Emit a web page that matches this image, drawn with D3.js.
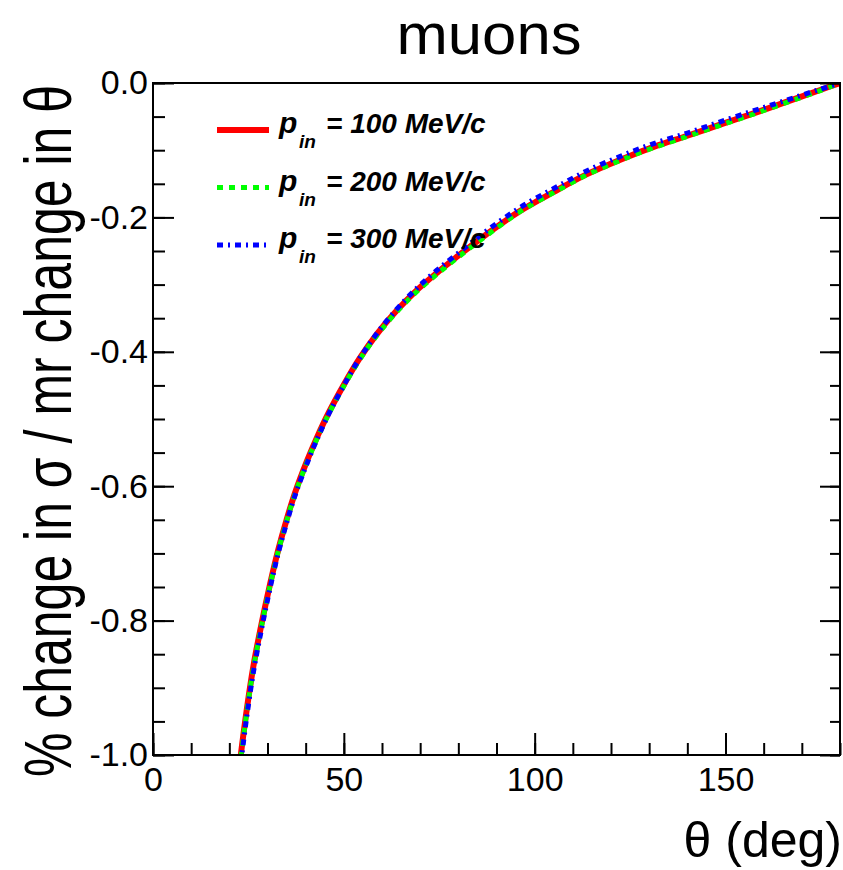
<!DOCTYPE html>
<html>
<head>
<meta charset="utf-8">
<script src="https://cdn.jsdelivr.net/npm/d3@7"></script>
<style>
  body { margin: 0; background: #fff; }
  text { font-family: "Liberation Sans", Arial, Helvetica, sans-serif; }
</style>
</head>
<body>
<div id="root"></div>
<script>
// theta in degrees
const theta = [23, 24.5, 26.3, 28.5, 30.7, 32.8, 35, 37.2, 40.3, 43, 46, 50, 54, 58.6, 63.8, 69,
               74.3, 80, 87.4, 96, 105, 113.6, 122.3, 131, 140, 148, 156.4, 163, 169.5, 175, 180];
const p100 = [-1.000, -0.935, -0.868, -0.803, -0.745, -0.695, -0.650, -0.610, -0.563, -0.527, -0.491,
              -0.449, -0.411, -0.374, -0.339, -0.309, -0.283, -0.257, -0.225, -0.191, -0.162, -0.136,
              -0.1145, -0.0955, -0.0785, -0.063, -0.047, -0.034, -0.021, -0.010, 0.000];
const p200 = [-1.004, -0.939, -0.871, -0.806, -0.747, -0.697, -0.652, -0.612, -0.565, -0.529, -0.493,
              -0.451, -0.413, -0.376, -0.341, -0.311, -0.285, -0.259, -0.227, -0.192, -0.163, -0.137,
              -0.1155, -0.0965, -0.0795, -0.064, -0.048, -0.035, -0.022, -0.011, 0.000];
const p300 = [-1.012, -0.946, -0.877, -0.811, -0.751, -0.700, -0.655, -0.614, -0.567, -0.530, -0.493,
              -0.450, -0.411, -0.373, -0.337, -0.306, -0.279, -0.253, -0.220, -0.186, -0.157, -0.131,
              -0.1095, -0.0905, -0.0745, -0.059, -0.043, -0.031, -0.019, -0.009, 0.000];
const seriesNames = ['100 MeV/c', '200 MeV/c', '300 MeV/c'];
const seriesColors = ['#ff0000', '#00ff00', '#0000ff'];
const seriesDash = ['none', '6,6', '6,5,2,5'];
const xTicks = [0, 50, 100, 150];
const yTicks = [0, -0.2, -0.4, -0.6, -0.8, -1.0];

const chart = () => {
  const w = 843;
  const h = 870;
  const m = { left: 153, right: 840, top: 83, bottom: 755 };

  const svg = d3.select('#root')
    .append('svg')
    .attr('width', w)
    .attr('height', h);

  const x = d3.scaleLinear().domain([0, 180]).range([m.left, m.right]);
  const y = d3.scaleLinear().domain([-1, 0]).range([m.bottom, m.top]);

  svg.append('clipPath').attr('id', 'frame')
    .append('rect')
    .attr('x', m.left).attr('y', m.top)
    .attr('width', m.right - m.left).attr('height', m.bottom - m.top);

  // curves
  const all = [p100, p200, p300];
  const line = d3.line()
    .x(d => x(d[0]))
    .y(d => y(d[1]))
    .curve(d3.curveCatmullRom.alpha(0.5));

  all.forEach((vals, i) => {
    svg.append('path')
      .datum(theta.map((t, j) => [t, vals[j]]))
      .attr('clip-path', 'url(#frame)')
      .attr('fill', 'none')
      .attr('stroke', seriesColors[i])
      .attr('stroke-width', i === 0 ? 6 : 5)
      .attr('stroke-dasharray', seriesDash[i])
      .attr('d', line);
  });

  // axes: ticks pointing inward
  const xMinor = d3.range(0, 181, 10);
  const yMinor = d3.range(0, 21).map(i => -i * 0.05);

  const bottom = svg.append('g').attr('transform', `translate(0,${m.bottom})`);
  bottom.call(d3.axisBottom(x).tickValues(xMinor).tickSize(-12).tickFormat(''));
  const bMaj = svg.append('g').attr('transform', `translate(0,${m.bottom})`);
  bMaj.call(d3.axisBottom(x).tickValues(xTicks).tickSize(-22).tickPadding(12).tickFormat(d => String(d)));

  const left = svg.append('g').attr('transform', `translate(${m.left},0)`);
  left.call(d3.axisLeft(y).tickValues(yMinor).tickSize(-12).tickFormat(''));
  const lMaj = svg.append('g').attr('transform', `translate(${m.left},0)`);
  lMaj.call(d3.axisLeft(y).tickValues(yTicks).tickSize(-21).tickPadding(5).tickFormat(d => d.toFixed(1)));

  const right = svg.append('g').attr('transform', `translate(${m.right},0)`);
  right.call(d3.axisRight(y).tickValues(yMinor).tickSize(-10).tickFormat(''));
  const rMaj = svg.append('g').attr('transform', `translate(${m.right},0)`);
  rMaj.call(d3.axisRight(y).tickValues(yTicks).tickSize(-20).tickFormat(''));

  svg.selectAll('.domain').remove();
  svg.selectAll('.tick line').attr('stroke', '#000').attr('stroke-width', 2);
  svg.selectAll('.tick text')
    .attr('font-size', '34px')
    .attr('font-family', '"Liberation Sans", Arial, sans-serif')
    .attr('fill', '#000');

  svg.append('rect')
    .attr('x', m.left).attr('y', m.top)
    .attr('width', m.right - m.left).attr('height', m.bottom - m.top)
    .attr('fill', 'none')
    .attr('stroke', '#000')
    .attr('stroke-width', 2);

  // titles
  svg.append('text')
    .text('muons')
    .attr('x', 489).attr('y', 54)
    .attr('text-anchor', 'middle')
    .attr('font-size', '58px')
    .attr('textLength', 185)
    .attr('lengthAdjust', 'spacingAndGlyphs');

  svg.append('text')
    .text('θ (deg)')
    .attr('x', 842).attr('y', 857)
    .attr('text-anchor', 'end')
    .attr('font-size', '50px');

  svg.append('text')
    .text('% change in σ / mr change in θ')
    .attr('transform', 'translate(71,85) rotate(-90) scale(1,1.35)')
    .attr('text-anchor', 'end')
    .attr('font-size', '50px');

  // legend
  const legend = svg.append('g')
    .selectAll('g')
    .data(seriesNames)
    .enter()
    .append('g')
    .attr('transform', (d, i) => `translate(217,${130 + i * 57.5})`);

  legend.append('line')
    .attr('x1', 0).attr('x2', 52)
    .attr('stroke', (d, i) => seriesColors[i])
    .attr('stroke-width', (d, i) => i === 0 ? 6 : 5)
    .attr('stroke-dasharray', (d, i) => seriesDash[i]);

  legend.append('text')
    .text('p')
    .attr('x', 62).attr('y', 3)
    .attr('font-size', '30px')
    .attr('font-weight', 'bold')
    .attr('font-style', 'italic');

  legend.append('text')
    .text('in')
    .attr('x', 82).attr('y', 18)
    .attr('font-size', '19px')
    .attr('font-weight', 'bold')
    .attr('font-style', 'italic');

  legend.append('text')
    .text(d => '= ' + d)
    .attr('x', 109).attr('y', 3)
    .attr('font-size', '28px')
    .attr('font-weight', 'bold')
    .attr('font-style', 'italic');
};

chart();
</script>
</body>
</html>
